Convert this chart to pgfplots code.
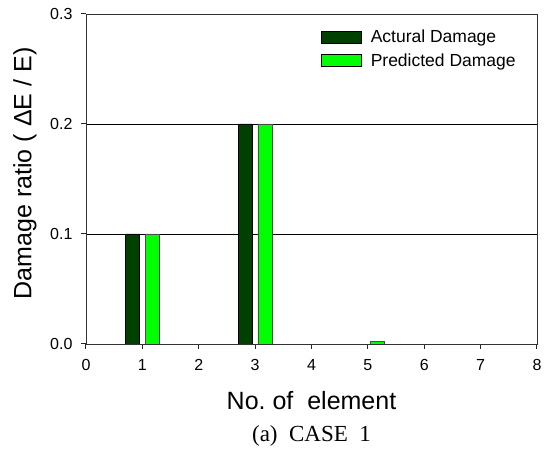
\documentclass[border=0pt]{standalone}
\usepackage{fontspec}
\setmainfont{Liberation Sans}
\newfontfamily\capserif{Liberation Serif}
\usepackage{pgfplots}
\pgfplotsset{compat=1.18}
\definecolor{darkg}{RGB}{0,64,0}
\definecolor{lightg}{RGB}{0,255,0}
\begin{document}
\begin{tikzpicture}
\path[use as bounding box] (-86pt,-110pt) rectangle (470pt,344pt);
\begin{axis}[
  scale only axis,
  width=451pt, height=330pt,
  xmin=0, xmax=8, ymin=0, ymax=0.3,
  xtick={0,1,2,3,4,5,6,7,8},
  ytick={0,0.1,0.2,0.3},
  yticklabels={0.0,0.1,0.2,0.3},
  xtick pos=bottom, ytick pos=left,
  tick align=outside,
  tick style={black!85, line width=1pt},
  major tick length=5pt,
  axis line style={black!80, line width=0.8pt},
  ymajorgrids,
  grid style={black, line width=0.8pt},
  /pgf/number format/assume math mode=true,
  ticklabel style={font=\fontsize{16}{19}\selectfont},
  xticklabel style={anchor=north, yshift=-7pt},
  yticklabel style={anchor=east, xshift=-5pt},
  xlabel={No.\ of\ \ element},
  ylabel={Damage ratio ( ΔE / E)},
  label style={font=\fontsize{25}{30}\selectfont},
  xlabel style={at={(axis description cs:0.5,-0.17)}, anchor=center},
  ylabel style={at={(axis description cs:-0.1353,0.517)}, anchor=center},
  ybar, bar width=14.1pt,
  legend style={at={(0.521,1)}, anchor=north west, yshift=-14pt, draw=none, fill=none,
    font=\fontsize{17.5}{21}\selectfont, row sep=5pt, inner sep=0pt},
  legend cell align=left,
]
\addplot[fill=darkg, draw=black, line width=0.6pt, bar shift=-9.87pt,
  legend image code/.code={\draw[fill=darkg, draw=black, line width=0.6pt] (0pt,-6pt) rectangle (40pt,6pt); \path (47pt,0pt);}]
  coordinates {(1,0.1) (3,0.2)};
\addplot[fill=lightg, draw=black!70, line width=0.6pt, bar shift=9.87pt,
  legend image code/.code={\draw[fill=lightg, draw=black, line width=0.6pt] (0pt,-6pt) rectangle (40pt,6pt); \path (47pt,0pt);}]
  coordinates {(1,0.1) (3,0.2) (5,0.002)};
\legend{Actural Damage, Predicted Damage}
\end{axis}
\node[font=\capserif\fontsize{23}{27}\selectfont] at (225.5pt,-92pt) {(a)\ \ CASE\ \ 1};
\end{tikzpicture}
\end{document}
